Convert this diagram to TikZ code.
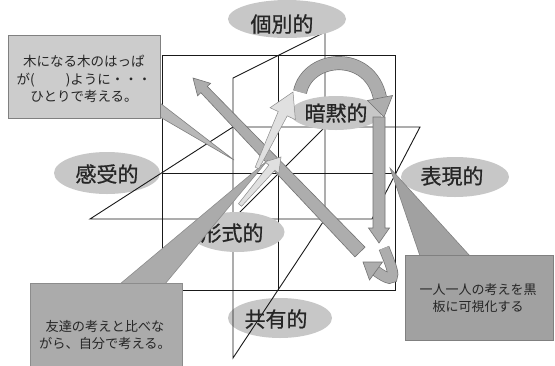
\documentclass[tikz,border=0pt]{standalone}
\usepackage{fontspec}
\newfontfamily\jpfont{Noto Sans CJK JP}
\newfontfamily\jplabfont[FakeBold=0.8]{Noto Sans CJK JP}
\usetikzlibrary{calc,shapes.geometric}
\newcommand\grarrow[7]{%
  \coordinate (grH) at ($(#3)!#7!(#2)$);
  \path[#1] ($(#2)!#4!90:(#3)$) -- ($(grH)!#5!90:(#3)$) -- ($(grH)!#6!90:(#3)$) -- (#3) -- ($(grH)!#6!-90:(#3)$) -- ($(grH)!#5!-90:(#3)$) -- ($(#2)!#4!-90:(#3)$) -- cycle;
}
\begin{document}
\begin{tikzpicture}[x=1pt,y=-1pt,
  ln/.style={draw=black!90, line width=0.9pt},
  lab/.style={ellipse, fill=black!22, draw=none, inner sep=0pt},
  labtxt/.style={font=\jplabfont\fontsize{21}{24}\selectfont, inner sep=0pt, text=black!85},
  boxtxt/.style={font=\jpfont\fontsize{13}{17}\selectfont, align=center, inner sep=0pt, text=black!85},
  darr/.style={fill=black!32, draw=black!55, line width=0.6pt},
  larr/.style={fill=black!12, draw=black!45, line width=0.5pt},
  bandedge/.style={draw=black!55, line width=14pt, line cap=butt},
  bandfill/.style={draw=black!32, line width=12.6pt, line cap=butt},
  headfill/.style={fill=black!32, draw=black!55, line width=0.6pt},
  boxA/.style={fill=black!20, draw=black!50, line width=0.8pt},
  boxB/.style={fill=black!33, draw=black!45, line width=0.8pt},
  boxC/.style={fill=black!37, draw=black!50, line width=0.8pt}
]
\useasboundingbox (0,0) rectangle (555,365);
\fill[white] (0,0) rectangle (555,365);

% label ellipses lying under the lines
\node[lab, minimum width=106pt, minimum height=42pt] (kanE) at (107,173) {};
\node[lab, minimum width=104pt, minimum height=40pt] (kyoE) at (280,318) {};

% planes
\draw[ln] (162,55) rectangle (395,290);
\draw[ln] (162,173) -- (395,173);
\draw[ln] (278,55) -- (278,290);
\draw[ln] (90,219) -- (233,127) -- (420,127) -- (372,219) -- cycle;
\draw[ln] (233,78) -- (325,32) -- (325,219) -- (233,358) -- cycle;
\draw[ln] (233,219) -- (325,127);

% label ellipses over the lines
\node[lab, minimum width=118pt, minimum height=38pt] (kobE) at (287,19) {};
\node[lab, minimum width=92pt, minimum height=34pt] (anE) at (336,113) {};
\node[lab, minimum width=108pt, minimum height=40pt] (hyoE) at (455,177) {};
\node[lab, minimum width=95pt, minimum height=40pt] (keiE) at (237,232) {};

\node[labtxt] (kobetsu) at (282,24) {個別的};
\node[labtxt] (anmoku) at (336,113) {暗黙的};
\node[labtxt] (kanju) at (107,174) {感受的};
\node[labtxt] (hyogen) at (452,176) {表現的};
\node[labtxt] (keishiki) at (232,233) {形式的};
\node[labtxt] (kyoyu) at (276,319) {共有的};

% top-left callout
\coordinate (pAtip) at (234,160);
\path[fill=black!28, draw=black!50, line width=0.6pt] (160,103) -- (pAtip) -- (160,117) -- cycle;
\path[boxA] (8,35) rectangle (160,118);
\node[boxtxt, font=\jpfont\fontsize{13.5}{17.5}\selectfont] (boxAtxt) at (84,79)
  {木になる木のはっぱ\\が(\hspace{2.3em})ように・・・\\ひとりで考える。};

% long diagonal arrow
\coordinate (dA) at (360,252);
\coordinate (dB) at (193,78);
\grarrow{darr}{dA}{dB}{7pt}{4.5pt}{9pt}{16pt}

% bottom-left callout
\coordinate (pBtip) at (268,160);
\path[fill=black!33, draw=black!45, line width=0.6pt] (120,284) -- (pBtip) -- (165,284) -- cycle;
\path[boxB] (30,283) rectangle (182,366);
\node[boxtxt, font=\jpfont\fontsize{13.2}{16.5}\selectfont] (boxBtxt) at (105,335)
  {友達の考えと比べな\\がら、自分で考える。};

% light arrows
\coordinate (lA) at (257,168);
\coordinate (lB) at (293,92);
\grarrow{larr}{lA}{lB}{2pt}{5pt}{14pt}{24pt}
\coordinate (mA) at (240,205);
\coordinate (mB) at (281,157);
\grarrow{larr}{mA}{mB}{2pt}{4pt}{9pt}{14pt}

% top arc arrow
\coordinate (arcS) at (300,92);
\coordinate (arcE) at (380,98);
\draw[bandedge] (arcS) .. controls (308,55) and (370,50) .. (arcE);
\draw[bandfill] (arcS) .. controls (308,55) and (370,50) .. (arcE);
\path[headfill] (367.5,100.5) -- (392.5,95.5) -- (384,117) -- cycle;

% vertical arrow
\coordinate (vA) at (379,117);
\coordinate (vB) at (379,243);
\grarrow{darr}{vA}{vB}{6pt}{6pt}{10.5pt}{15pt}

% U-turn arrow
\coordinate (uS) at (384,248);
\coordinate (uE) at (376,271);
\draw[bandedge, line width=11pt] (uS) .. controls (392,268) and (402,290) .. (uE);
\draw[bandfill, line width=9.6pt] (uS) .. controls (392,268) and (402,290) .. (uE);
\path[headfill] (382.5,262) -- (369.5,280) -- (363,262) -- cycle;

% bottom-right callout
\coordinate (pCtip) at (390,168);
\path[fill=black!37, draw=black!50, line width=0.6pt] (pCtip) -- (470,256) -- (420,256) -- cycle;
\path[boxC] (405,255) rectangle (553,340);
\node[boxtxt] (boxCtxt) at (478,298) {一人一人の考えを黒\\板に可視化する};
\end{tikzpicture}
\end{document}
